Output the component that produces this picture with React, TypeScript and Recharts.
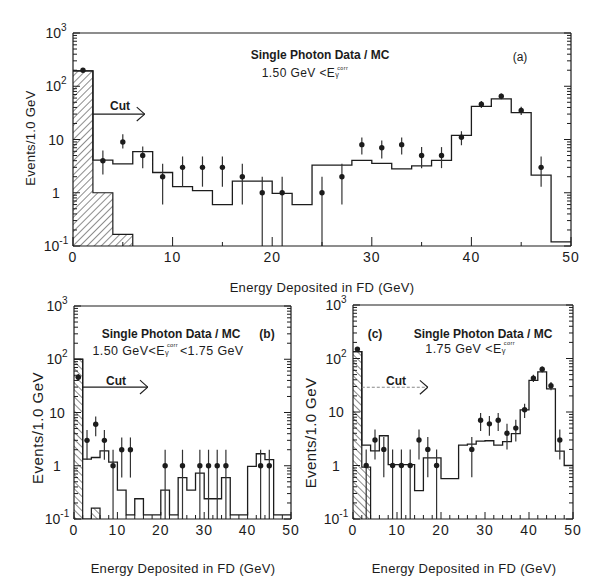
import React from "react";
import {
  ComposedChart,
  Line,
  Area,
  Scatter,
  XAxis,
  YAxis,
  ErrorBar,
  ReferenceLine,
} from "recharts";

// 2 GeV bins, left edges
const binStarts = [0, 2, 4, 6, 8, 10, 12, 14, 16, 18, 20, 22, 24, 26, 28, 30, 32, 34, 36, 38, 40, 42, 44, 46, 48];
const X_END = 50;
const FLOOR = 0.1;

const yMajorTicks = [0.1, 1, 10, 100, 1000];
const yTickBase = ["10", "1", "10", "10", "10"];
const yTickExp = ["-1", "", "", "2", "3"];
const yMinorTicks = [
  0.2, 0.3, 0.4, 0.5, 0.6, 0.7, 0.8, 0.9,
  2, 3, 4, 5, 6, 7, 8, 9,
  20, 30, 40, 50, 60, 70, 80, 90,
  200, 300, 400, 500, 600, 700, 800, 900,
];
const xLabelTicks = [0, 10, 20, 30, 40, 50];
const xMinorA = [5, 15, 25, 35, 45];
const xMinorBC = [2, 4, 6, 8, 12, 14, 16, 18, 22, 24, 26, 28, 32, 34, 36, 38, 42, 44, 46, 48];

// panel (a): 1.50 GeV < E
const aMc = [195, 4.1, 3.5, 5.9, 2.4, 1.3, 1.1, 0.6, 1.65, 1.65, 0.97, 0.6, 3.3, 3.3, 4.05, 3.55, 2.8, 3.2, 4.05, 12, 42, 58, 32, 2.15, 0.12];
const aHatch = [195, 1.0, 0.166];
const aPtX = [1, 3, 5, 7, 9, 11, 13, 15, 17, 19, 21, 25, 27, 29, 31, 33, 35, 37, 39, 41, 43, 45, 47];
const aPtY = [200, 4, 9, 5, 2, 3, 3, 3, 2, 1, 1, 1, 2, 8, 7, 8, 5, 5, 11, 46, 65, 35, 3];
const aPtLo = [186, 2.2, 6.8, 2.9, 0.6, 1.3, 1.3, 1.3, 0.6, 0, 0, 0, 0.6, 5.2, 4.4, 5.2, 2.9, 2.9, 7.8, 39, 57, 29, 1.3];
const aPtHi = [214, 6.2, 12.5, 7.4, 3.5, 4.8, 4.8, 4.8, 3.5, 2, 2, 2, 3.5, 10.9, 9.6, 10.9, 7.2, 7.2, 14.3, 53, 73, 41, 4.8];

// panel (b): 1.50 < E < 1.75 GeV
const bMc = [100, 1.33, 1.43, 1.9, 1.17, 0.35, 0.12, 0.24, 0.12, 0.12, 0.35, 0.12, 0.6, 0.35, 0.73, 0.24, 0.24, 0.6, 0.12, 0.12, 0.97, 1.68, 1.3, 0.12, 0.12];
const bHatch = [100, null, 0.16];
const bPtX = [1, 3, 5, 7, 9, 11, 13, 21, 25, 29, 31, 33, 35, 43, 45];
const bPtY = [46, 3, 6, 3, 1, 2, 2, 1, 1, 1, 1, 1, 1, 1, 1];
const bPtLo = [39, 1.3, 3.6, 1.3, 0, 0.6, 0.6, 0, 0, 0, 0, 0, 0, 0, 0];
const bPtHi = [53, 4.7, 8.4, 4.7, 2, 3.4, 3.4, 2, 2, 2, 2, 2, 2, 2, 2];

// panel (c): 1.75 GeV < E
const cMc = [134, 2.4, 1.87, 3.6, 1.04, 1.04, 1.04, 0.34, 1.39, 1.39, 0.57, 0.57, 2.4, 2.5, 2.85, 2.9, 2.4, 2.8, 3.95, 11, 39, 56, 27, 1.85, 1.0];
const cHatch = [134, 0.93];
const cPtX = [1, 3, 5, 7, 9, 11, 13, 15, 17, 19, 27, 29, 31, 33, 35, 37, 39, 41, 43, 45, 47];
const cPtY = [150, 1, 3, 2, 1, 1, 1, 3, 2, 1, 2, 7, 6, 7, 4, 5, 11, 43, 63, 31, 3];
const cPtLo = [138, 0, 1.3, 0.6, 0, 0, 0, 1.3, 0.6, 0, 0.6, 4.4, 3.6, 4.4, 2, 2.8, 7.7, 36.5, 55, 25.5, 1.3];
const cPtHi = [162, 2, 4.7, 3.4, 2, 2, 2, 4.7, 3.4, 2, 3.4, 9.6, 8.4, 9.6, 6, 7.2, 14.3, 49.5, 71, 36.5, 4.7];

// "Cut" arrows (GeV from, GeV to, events level)
const cutA = { from: 2, to: 7.2, y: 30, head: 0.8 };
const cutB = { from: 2, to: 17, y: 30, head: 1.8 };
const cutC = { from: 2, to: 17, y: 29, head: 1.8 };

const INK = "#1c1c1c";

function stepRows(vals: (number | null)[]) {
  const get = (i: number) => (i >= 0 && i < vals.length && vals[i] != null ? (vals[i] as number) : null);
  const rows: { x: number; v: number | null }[] = binStarts.map((x, i) => {
    const v = get(i);
    return { x, v: v != null ? v : get(i - 1) != null ? FLOOR : null };
  });
  const n = binStarts.length;
  const last = get(n - 1);
  rows.push({ x: X_END, v: last != null ? last : get(n - 2) != null ? FLOOR : null });
  return rows;
}

function pointRows(xs: number[], ys: number[], lo: number[], hi: number[]) {
  return xs.map((x, i) => ({
    x,
    y: ys[i],
    err: [ys[i] - Math.max(lo[i], FLOOR), hi[i] - ys[i]],
  }));
}

function makeXTick(top: boolean, major: number, minor: number, labels: boolean) {
  return (p: any) => {
    const v = p.payload.value;
    const isMajor = xLabelTicks.includes(v);
    const len = isMajor ? major : minor;
    return (
      <g>
        <line x1={p.x} x2={p.x} y1={p.y} y2={top ? p.y + len : p.y - len} stroke={INK} strokeWidth={1} />
        {labels && isMajor && (
          <text x={p.x} y={p.y + 16} textAnchor="middle" fontSize={14} letterSpacing={1} fill={INK}>
            {v}
          </text>
        )}
      </g>
    );
  };
}

function makeYTick(right: boolean, major: number, minor: number) {
  return (p: any) => {
    const v = p.payload.value;
    const k = yMajorTicks.indexOf(v);
    const len = k >= 0 ? major : minor;
    return (
      <g>
        <line x1={p.x} x2={right ? p.x - len : p.x + len} y1={p.y} y2={p.y} stroke={INK} strokeWidth={1} />
        {!right && k >= 0 && (
          <text x={p.x - 17} y={p.y + 5} textAnchor="middle" fontSize={14} fill={INK}>
            {yTickBase[k]}
            {yTickExp[k] && (
              <tspan dy={-7} fontSize={10}>
                {yTickExp[k]}
              </tspan>
            )}
          </text>
        )}
      </g>
    );
  };
}

type Cut = { from: number; to: number; y: number; head: number };

function Panel(props: {
  left: number;
  top: number;
  width: number;
  height: number;
  yW: number;
  rW: number;
  tH: number;
  bH: number;
  mc: number[];
  hatch: (number | null)[];
  hatchId: string;
  hatchAngle: number;
  points: { x: number; y: number; err: number[] }[];
  minorX: number[];
  xMajorLen: number;
  cut: Cut;
  cutColor: string;
  cutDash?: string;
}) {
  const p = props;
  const mcRows = stepRows(p.mc);
  const hatchRows = stepRows(p.hatch);
  const xTicks = [...xLabelTicks, ...p.minorX];
  const yTicks = [...yMajorTicks, ...yMinorTicks];
  const c = p.cut;
  return (
    <div style={{ position: "absolute", left: p.left, top: p.top }}>
      <ComposedChart width={p.width} height={p.height} margin={{ top: 0, right: 0, bottom: 0, left: 0 }}>
        <defs>
          <pattern id={p.hatchId} width="5" height="5" patternUnits="userSpaceOnUse" patternTransform={`rotate(${p.hatchAngle})`}>
            <line x1="0" y1="0" x2="0" y2="5" stroke={INK} strokeWidth="1" />
          </pattern>
        </defs>
        <XAxis
          xAxisId="b"
          type="number"
          dataKey="x"
          domain={[0, X_END]}
          allowDataOverflow
          ticks={xTicks}
          interval={0}
          tickSize={0}
          tickMargin={0}
          tickLine={false}
          height={p.bH}
          axisLine={{ stroke: INK, strokeWidth: 1.2 }}
          tick={makeXTick(false, p.xMajorLen, 4, true)}
        />
        <XAxis
          xAxisId="t"
          orientation="top"
          type="number"
          domain={[0, X_END]}
          allowDataOverflow
          ticks={xTicks}
          interval={0}
          tickSize={0}
          tickMargin={0}
          tickLine={false}
          height={p.tH}
          axisLine={{ stroke: INK, strokeWidth: 1.2 }}
          tick={makeXTick(true, p.xMajorLen, 4, false)}
        />
        <YAxis
          yAxisId="l"
          type="number"
          scale="log"
          domain={[FLOOR, 1000]}
          allowDataOverflow
          ticks={yTicks}
          interval={0}
          tickSize={0}
          tickMargin={0}
          tickLine={false}
          width={p.yW}
          axisLine={{ stroke: INK, strokeWidth: 1.2 }}
          tick={makeYTick(false, 7, 4)}
        />
        <YAxis
          yAxisId="r"
          orientation="right"
          type="number"
          scale="log"
          domain={[FLOOR, 1000]}
          allowDataOverflow
          ticks={yTicks}
          interval={0}
          tickSize={0}
          tickMargin={0}
          tickLine={false}
          width={p.rW}
          axisLine={{ stroke: INK, strokeWidth: 1.2 }}
          tick={makeYTick(true, 7, 4)}
        />
        <Area
          xAxisId="b"
          yAxisId="l"
          data={hatchRows}
          dataKey="v"
          type="stepAfter"
          baseValue={FLOOR}
          stroke={INK}
          strokeWidth={1.2}
          fill={`url(#${p.hatchId})`}
          fillOpacity={1}
          isAnimationActive={false}
        />
        <Line
          xAxisId="b"
          yAxisId="l"
          data={mcRows}
          dataKey="v"
          type="stepAfter"
          stroke={INK}
          strokeWidth={1.3}
          dot={false}
          isAnimationActive={false}
        />
        <Scatter
          xAxisId="b"
          yAxisId="l"
          data={p.points}
          dataKey="y"
          isAnimationActive={false}
          shape={(s: any) => <circle cx={s.cx} cy={s.cy} r={2.7} fill={INK} />}
        >
          <ErrorBar dataKey="err" direction="y" width={0} stroke="#333" strokeWidth={1.2} />
        </Scatter>
        <ReferenceLine
          xAxisId="b"
          yAxisId="l"
          segment={[{ x: c.from, y: c.y }, { x: c.to, y: c.y }]}
          stroke={p.cutColor}
          strokeWidth={1.2}
          strokeDasharray={p.cutDash}
        />
        <ReferenceLine
          xAxisId="b"
          yAxisId="l"
          segment={[{ x: c.to - c.head, y: c.y * 1.35 }, { x: c.to, y: c.y }]}
          stroke={INK}
          strokeWidth={1.1}
        />
        <ReferenceLine
          xAxisId="b"
          yAxisId="l"
          segment={[{ x: c.to - c.head, y: c.y / 1.35 }, { x: c.to, y: c.y }]}
          stroke={INK}
          strokeWidth={1.1}
        />
      </ComposedChart>
    </div>
  );
}

function Txt(props: {
  x: number;
  y: number;
  size: number;
  bold?: boolean;
  rotate?: boolean;
  spacing?: number;
  children: React.ReactNode;
}) {
  return (
    <div
      style={{
        position: "absolute",
        left: props.x,
        top: props.y,
        transform: `translate(-50%, -50%)${props.rotate ? " rotate(-90deg)" : ""}`,
        fontSize: props.size,
        fontWeight: props.bold ? 700 : 400,
        letterSpacing: props.spacing ?? 0,
        whiteSpace: "nowrap",
        lineHeight: 1,
        color: INK,
      }}
    >
      {props.children}
    </div>
  );
}

function Ecorr() {
  return (
    <span>
      E
      <span style={{ position: "relative", display: "inline-block", width: 15, height: "0.8em" }}>
        <span style={{ position: "absolute", left: 0, top: "0.5em", fontSize: "0.6em", lineHeight: 1 }}>γ</span>
        <span style={{ position: "absolute", left: 2, top: "-0.3em", fontSize: "0.45em", lineHeight: 1 }}>corr</span>
      </span>
    </span>
  );
}

export default function App() {
  const xLabel = "Energy Deposited in FD (GeV)";
  const yLabel = "Events/1.0 GeV";
  return (
    <div
      style={{
        position: "absolute",
        left: 0,
        top: 0,
        width: 600,
        height: 587,
        background: "#fff",
        fontFamily: "'Liberation Sans', Arial, sans-serif",
        overflow: "hidden",
      }}
    >
      <Panel
        left={0}
        top={0}
        width={600}
        height={300}
        yW={73}
        rW={29}
        tH={33}
        bH={54}
        mc={aMc}
        hatch={aHatch}
        hatchId="hatchA"
        hatchAngle={45}
        points={pointRows(aPtX, aPtY, aPtLo, aPtHi)}
        minorX={xMinorA}
        xMajorLen={9}
        cut={cutA}
        cutColor={INK}
      />
      <Panel
        left={0}
        top={288}
        width={300}
        height={299}
        yW={74}
        rW={9}
        tH={18}
        bH={68}
        mc={bMc}
        hatch={bHatch}
        hatchId="hatchB"
        hatchAngle={-45}
        points={pointRows(bPtX, bPtY, bPtLo, bPtHi)}
        minorX={xMinorBC}
        xMajorLen={7}
        cut={cutB}
        cutColor={INK}
      />
      <Panel
        left={300}
        top={288}
        width={300}
        height={299}
        yW={53}
        rW={27}
        tH={17}
        bH={68}
        mc={cMc}
        hatch={cHatch}
        hatchId="hatchC"
        hatchAngle={-45}
        points={pointRows(cPtX, cPtY, cPtLo, cPtHi)}
        minorX={xMinorBC}
        xMajorLen={7}
        cut={cutC}
        cutColor="#888"
        cutDash="3 2"
      />

      {/* panel (a) text */}
      <Txt x={320} y={55} size={12} bold>Single Photon Data / MC</Txt>
      <Txt x={306} y={73} size={12} spacing={0.4}>
        1.50 GeV &lt;<Ecorr />
      </Txt>
      <Txt x={520} y={57} size={12}>(a)</Txt>
      <Txt x={120} y={106} size={12} bold>Cut</Txt>
      <Txt x={322} y={287} size={13} spacing={0.3}>{xLabel}</Txt>
      <Txt x={30} y={138} size={13} rotate spacing={0.3}>{yLabel}</Txt>

      {/* panel (b) text */}
      <Txt x={171} y={334} size={12} bold>Single Photon Data / MC</Txt>
      <Txt x={267} y={334} size={12} bold>(b)</Txt>
      <Txt x={168} y={351} size={12.5} spacing={0.4}>
        1.50 GeV&lt;<Ecorr />&lt;1.75 GeV
      </Txt>
      <Txt x={116} y={381} size={12} bold>Cut</Txt>
      <Txt x={183} y={568} size={13} spacing={0.3}>{xLabel}</Txt>
      <Txt x={37} y={428} size={15} rotate spacing={0.5}>{yLabel}</Txt>

      {/* panel (c) text */}
      <Txt x={483} y={334} size={12} bold>Single Photon Data / MC</Txt>
      <Txt x={375} y={334} size={12} bold>(c)</Txt>
      <Txt x={471} y={349} size={12.5} spacing={0.4}>
        1.75 GeV &lt;<Ecorr />
      </Txt>
      <Txt x={396} y={381} size={12} bold>Cut</Txt>
      <Txt x={464} y={568} size={13} spacing={0.3}>{xLabel}</Txt>
      <Txt x={310} y={433} size={15} rotate spacing={0.4}>{yLabel}</Txt>
    </div>
  );
}
